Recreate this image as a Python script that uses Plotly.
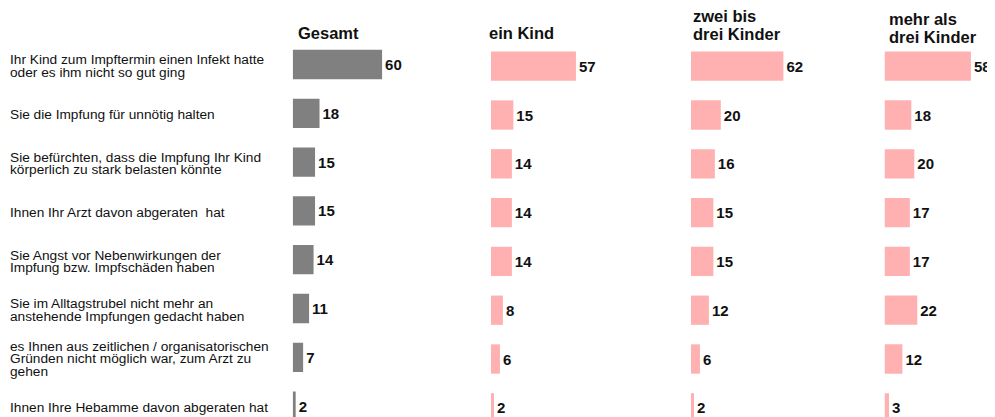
import plotly.graph_objects as go

# ---------------- data ----------------
categories = [
    "Ihr Kind zum Impftermin einen Infekt hatte oder es ihm nicht so gut ging",
    "Sie die Impfung für unnötig halten",
    "Sie befürchten, dass die Impfung Ihr Kind körperlich zu stark belasten könnte",
    "Ihnen Ihr Arzt davon abgeraten  hat",
    "Sie Angst vor Nebenwirkungen der Impfung bzw. Impfschäden haben",
    "Sie im Alltagstrubel nicht mehr an anstehende Impfungen gedacht haben",
    "es Ihnen aus zeitlichen / organisatorischen Gründen nicht möglich war, zum Arzt zu gehen",
    "Ihnen Ihre Hebamme davon abgeraten hat",
]
category_lines = [
    ["Ihr Kind zum Impftermin einen Infekt hatte", "oder es ihm nicht so gut ging"],
    ["Sie die Impfung für unnötig halten"],
    ["Sie befürchten, dass die Impfung Ihr Kind", "körperlich zu stark belasten könnte"],
    ["Ihnen Ihr Arzt davon abgeraten\u00a0 hat"],
    ["Sie Angst vor Nebenwirkungen der", "Impfung bzw. Impfschäden haben"],
    ["Sie im Alltagstrubel nicht mehr an", "anstehende Impfungen gedacht haben"],
    ["es Ihnen aus zeitlichen / organisatorischen", "Gründen nicht möglich war, zum Arzt zu", "gehen"],
    ["Ihnen Ihre Hebamme davon abgeraten hat"],
]
group_titles = [["Gesamt"], ["ein Kind"], ["zwei bis", "drei Kinder"], ["mehr als", "drei Kinder"]]
gesamt = [60, 18, 15, 15, 14, 11, 7, 2]
ein_kind = [57, 15, 14, 14, 14, 8, 6, 2]
zwei_bis_drei = [62, 20, 16, 15, 15, 12, 6, 2]
mehr_als_drei = [58, 18, 20, 17, 17, 22, 12, 3]
series = [gesamt, ein_kind, zwei_bis_drei, mehr_als_drei]

# ---------------- layout helpers ----------------
OFF = 8                      # page body margin
W, H = 995 - OFF, 417 - OFF  # figure size
GRAY = "#808080"
PINK = "#FFB0B0"
colors = [GRAY, PINK, PINK, PINK]
px_per_unit = 1.49
panel_left = [292.7, 491, 691, 884.5]     # page pixels
panel_right = [491, 691, 884.5, 995]
row_h = 48.8
first_center = [64.5, 66.2]  # page pixels: gray, pink

FONT = "Liberation Sans, Arial, sans-serif"


def fx(p):
    return (p - OFF) / W


def fy(p):
    return 1 - (p - OFF) / H


fig = go.Figure()
for k, vals in enumerate(series):
    xa = "x" if k == 0 else f"x{k+1}"
    ya = "y" if k == 0 else "y2"
    fig.add_trace(go.Bar(
        x=vals, y=categories, orientation="h",
        marker=dict(color=colors[k], line=dict(width=0)),
        width=0.6,
        text=[str(v) for v in vals], textposition="outside",
        textfont=dict(family=FONT, size=15, color="#111111", weight="bold"),
        constraintext="none", cliponaxis=False,
        xaxis=xa, yaxis=ya, showlegend=False, hoverinfo="skip",
    ))

layout = dict(
    width=W, height=H, margin=dict(l=0, r=0, t=0, b=0),
    paper_bgcolor="white", plot_bgcolor="rgba(0,0,0,0)",
    bargap=0.4, showlegend=False,
)
for k in range(4):
    key = "xaxis" if k == 0 else f"xaxis{k+1}"
    right = min(panel_right[k], 995)
    wpx = right - panel_left[k]
    layout[key] = dict(
        domain=[fx(panel_left[k]), min(fx(right), 1)],
        range=[0, wpx / px_per_unit], visible=False, fixedrange=True,
        anchor="y" if k == 0 else "y2",
    )


def yrange(c0):
    top = -(c0 - OFF) / row_h
    bottom = top + H / row_h
    return [bottom, top]


layout["yaxis"] = dict(domain=[0, 1], type="category", categoryorder="array",
                       categoryarray=categories, range=yrange(first_center[0]),
                       visible=False, fixedrange=True)
layout["yaxis2"] = dict(domain=[0, 1], type="category", categoryorder="array",
                        categoryarray=categories, range=yrange(first_center[1]),
                        visible=False, fixedrange=True, overlaying="y")
fig.update_layout(**layout)

annotations = []
# category labels (left, left-aligned, one annotation per line)
line_sp = 12.2
for cat, lines in zip(categories, category_lines):
    n = len(lines)
    for j, ln in enumerate(lines):
        annotations.append(dict(
            x=0, xref="paper", xanchor="left",
            y=cat, yref="y", yanchor="middle",
            yshift=-((j - (n - 1) / 2) * line_sp) - 1.5,
            text=ln, showarrow=False, align="left",
            font=dict(family=FONT, size=13.7, color="#111111"),
        ))

# group titles (page pixel positions: left x, line centres y)
title_pos = [(298, [33]), (489, [33]), (693, [16, 34.5]), (889, [19, 37])]
for (tx, tys), lines in zip(title_pos, group_titles):
    for ty, ln in zip(tys, lines):
        annotations.append(dict(
            x=fx(tx - 2), xref="paper", xanchor="left",
            y=fy(ty), yref="paper", yanchor="middle",
            text=ln, showarrow=False,
            font=dict(family=FONT, size=16.5, color="#111111", weight="bold"),
        ))

fig.update_layout(annotations=annotations)
fig.write_html("out.html")
